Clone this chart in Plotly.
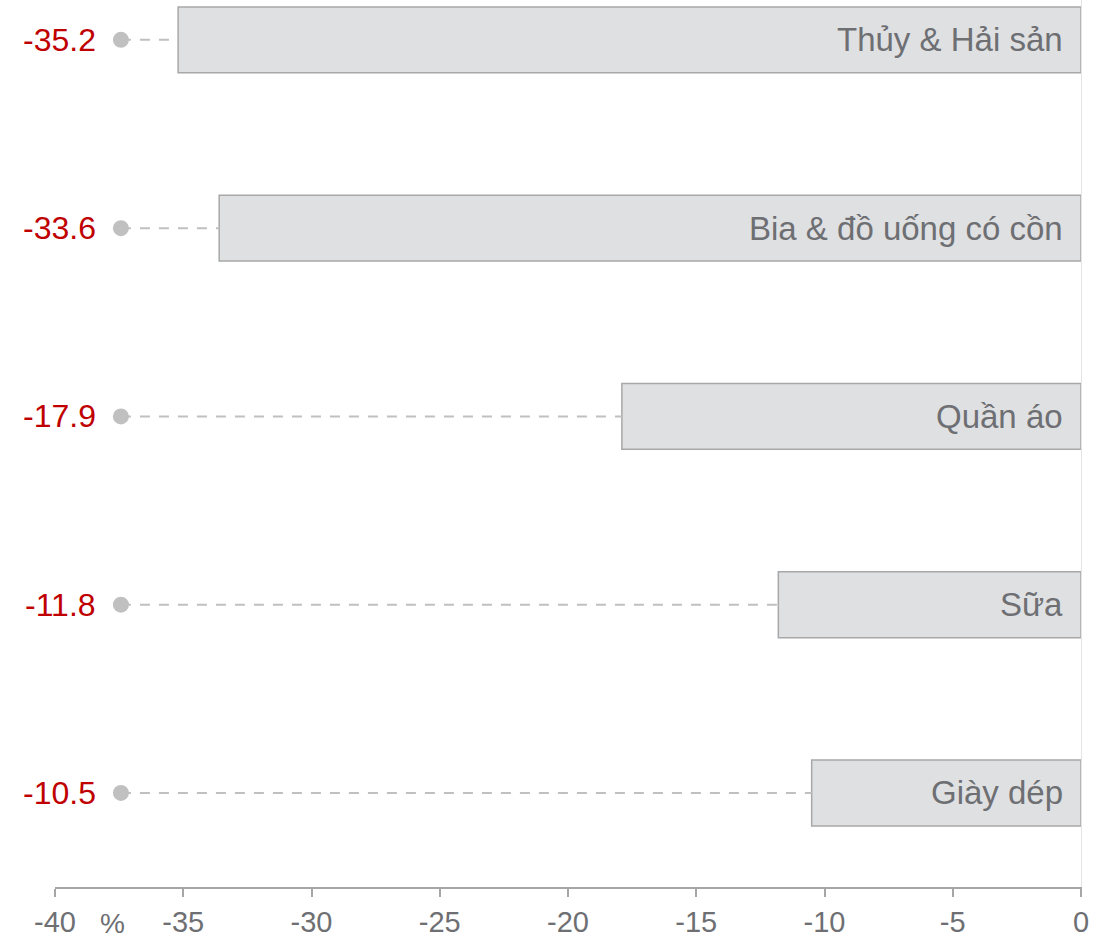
import plotly.graph_objects as go

# data
categories = ["Thủy & Hải sản", "Bia & đồ uống có cồn", "Quần áo", "Sữa", "Giày dép"]
values = [-35.2, -33.6, -17.9, -11.8, -10.5]
x_ticks = [-40, -35, -30, -25, -20, -15, -10, -5, 0]
unit_label = "%"

# layout constants
DOT_X = -37.43
FONT = "Liberation Sans, Arial, sans-serif"
GREY_TXT = "#6e6f73"
RED = "#c00000"

fig = go.Figure()

# dashed leader lines + dot
for cat, val in zip(categories, values):
    fig.add_trace(go.Scatter(
        x=[DOT_X, val], y=[cat, cat],
        mode="lines",
        line=dict(color="#c0c0c0", width=2, dash="10px,9px"),
        hoverinfo="skip", showlegend=False
    ))
fig.add_trace(go.Scatter(
    x=[DOT_X] * len(categories), y=categories,
    mode="markers",
    marker=dict(size=16, color="#c0c0c0"),
    hoverinfo="skip", showlegend=False
))

# bars
fig.add_trace(go.Bar(
    x=values, y=categories, orientation="h",
    width=0.35,
    marker=dict(color="#dfe0e2", line=dict(color="#a8a8a8", width=1.5)),
    hoverinfo="skip", showlegend=False
))

annotations = []
for cat, val in zip(categories, values):
    # category name inside the bar, right aligned
    annotations.append(dict(
        x=0, y=cat, xref="x", yref="y", text=cat, showarrow=False,
        xanchor="right", yanchor="middle", xshift=-16,
        font=dict(family=FONT, size=33, color=GREY_TXT)
    ))
    # red value at left
    annotations.append(dict(
        x=DOT_X, y=cat, xref="x", yref="y", text=f"{val:.1f}", showarrow=False,
        xanchor="right", yanchor="middle", xshift=-23,
        font=dict(family=FONT, size=32, color=RED)
    ))
annotations.append(dict(
    x=-37.75, y=0, xref="x", yref="paper", text=unit_label, showarrow=False,
    xanchor="center", yanchor="middle", yshift=-36,
    font=dict(family=FONT, size=28, color=GREY_TXT)
))

fig.update_layout(
    width=1111, height=938,
    margin=dict(l=55, r=30, t=0, b=44),
    paper_bgcolor="white", plot_bgcolor="white",
    annotations=annotations,
    xaxis=dict(
        range=[-40, 0], tickvals=x_ticks, ticktext=[str(t) for t in x_ticks],
        showgrid=False, zeroline=False,
        showline=True, linecolor="#a6a6a6", linewidth=2,
        ticks="outside", ticklen=8, tickwidth=2, tickcolor="#a6a6a6",
        tickfont=dict(family=FONT, size=29, color=GREY_TXT),
    ),
    yaxis=dict(
        type="category", categoryarray=categories,
        range=[4.4995, -0.2117],
        showticklabels=False, ticks="", showgrid=False, zeroline=False,
        side="right", showline=True, linecolor="#e4e4e4", linewidth=1,
    ),
)

# page body has a default 8px margin; remove it so the figure fills the window
fig.write_html("out.html", config={"displayModeBar": False},
               post_script="document.body.style.margin='0';")
